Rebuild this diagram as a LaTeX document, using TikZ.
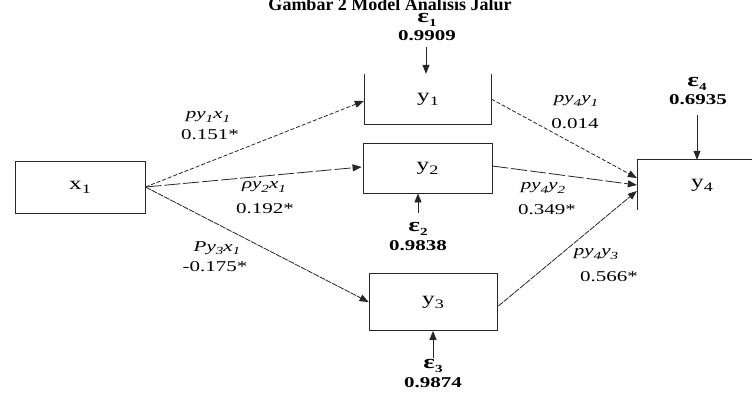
\documentclass[tikz,border=0pt]{standalone}
\usepackage{fontspec}
\setmainfont{Liberation Serif}
\newfontfamily\labfont{Liberation Serif}[FakeStretch=1.4]
\usetikzlibrary{arrows.meta,calc}
\newcommand{\sbs}[1]{\raisebox{-0.22em}{\scalebox{0.72}{#1}}}
\newcommand{\eps}{\scalebox{1.3}{ε}}
\begin{document}
\begin{tikzpicture}[x=1pt,y=-1pt,
  line/.style={line width=0.8pt, draw=black!85},
  arr/.style={line, -{Triangle[length=9pt,width=7pt]}},
  shortdash/.style={dash pattern=on 4pt off 2pt},
  longdash/.style={dash pattern=on 16pt off 3pt},
  finedash/.style={dash pattern=on 6pt off 1pt},
  boxlab/.style={font=\labfont\fontsize{18}{20}\selectfont, inner sep=0pt},
  pathlab/.style={font=\labfont\itshape\fontsize{15}{16}\selectfont, inner sep=1pt},
  coef/.style={font=\labfont\fontsize{15}{16}\selectfont, inner sep=1pt},
  errlab/.style={font=\labfont\bfseries\fontsize{15}{16}\selectfont, inner sep=1pt}]
\clip (0,0) rectangle (752,392);
\useasboundingbox (0,0) rectangle (752,392);
\fill[white] (0,0) rectangle (752,392);

% title
\node[font=\bfseries\fontsize{18}{20}\selectfont, anchor=base, inner sep=0pt] (title) at (390,10) {Gambar 2 Model Analisis Jalur};

% boxes
\node[boxlab, line, draw, minimum width=130pt, minimum height=52pt] (x1) at (80,187) {x\sbs{1}};
\node[boxlab, minimum width=126pt, minimum height=50pt] (y1) at (428,99) {y\sbs{1}};
\draw[line] (y1.north west) -- (y1.south west) -- (y1.south east) -- (y1.north east);
\node[boxlab, line, draw, minimum width=129pt, minimum height=50pt] (y2) at (427.5,168) {y\sbs{2}};
\node[boxlab, line, draw, minimum width=128pt, minimum height=57pt] (y3) at (433,302) {y\sbs{3}};
\node[boxlab, minimum width=128pt, minimum height=50pt] (y4) at (702,185) {y\sbs{4}};
\draw[line] (y4.south west) -- (y4.north west) -- (y4.north east);

% paths from x1
\draw[arr, shortdash] (x1.east) -- ($(y1.west)+(-1,2)$);
\draw[arr, longdash] (x1.east) -- ($(y2.west)+(-1,-1)$);
\draw[arr, finedash] (x1.east) -- (y3.west);

% paths to y4
\draw[arr, shortdash] (y1.east) -- ($(y4.west)+(-1,-7)$);
\draw[arr, longdash] ($(y2.east)+(0,-2)$) -- ($(y4.west)+(-1,0)$);
\draw[arr, finedash] ($(y3.east)+(1,4)$) -- ($(y4.west)+(-1,6)$);

% error terms
\node[errlab] (e1) at (427,20) {\eps\sbs{1}};
\node[errlab] (e1v) at (427,36) {0.9909};
\coordinate (e1s) at (426,47);
\draw[arr] (e1s) -- (e1s |- y1.north);

\node[errlab] (e2) at (418,229) {\eps\sbs{2}};
\node[errlab] (e2v) at (418,246) {0.9838};
\coordinate (e2s) at (418,213);
\draw[arr] (e2s) -- (e2s |- y2.south);

\node[errlab] (e3) at (433,366) {\eps\sbs{3}};
\node[errlab] (e3v) at (433,383) {0.9874};
\coordinate (e3s) at (433,358);
\draw[arr] (e3s) -- (e3s |- y3.south);

\node[errlab] (e4) at (697,84) {\eps\sbs{4}};
\node[errlab] (e4v) at (698,100) {0.6935};
\coordinate (e4s) at (697,115);
\draw[arr] (e4s) -- (e4s |- y4.north);

% coefficient labels
\node[pathlab] (l1) at (208,117) {py\sbs{1}x\sbs{1}};
\node[coef] (c1) at (210,135) {0.151*};
\node[pathlab] (l2) at (264,187) {ρy\sbs{2}x\sbs{1}};
\node[coef] (c2) at (265,209) {0.192*};
\node[pathlab] (l3) at (217,248) {Py\sbs{3}x\sbs{1}};
\node[coef] (c3) at (215,267) {-0.175*};
\node[pathlab] (l4) at (576,101) {py\sbs{4}y\sbs{1}};
\node[coef] (c4) at (575,124) {0.014};
\node[pathlab] (l5) at (543,188) {py\sbs{4}y\sbs{2}};
\node[coef] (c5) at (547,210) {0.349*};
\node[pathlab] (l6) at (596,254) {py\sbs{4}y\sbs{3}};
\node[coef] (c6) at (609,277) {0.566*};
\end{tikzpicture}
\end{document}
